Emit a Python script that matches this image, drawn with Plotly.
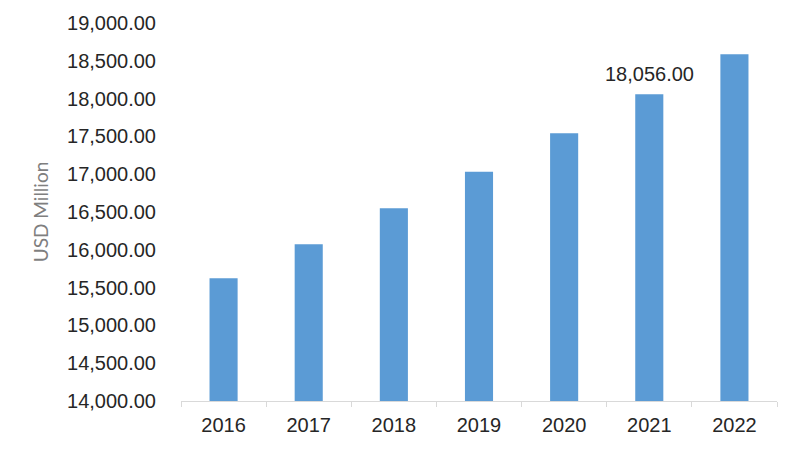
import plotly.graph_objects as go

years = ["2016", "2017", "2018", "2019", "2020", "2021", "2022"]
values = [15623, 16073, 16549, 17033, 17541, 18056, 18586]
labelled_year = "2021"
labelled_text = "18,056.00"
y_ticks = [14000, 14500, 15000, 15500, 16000, 16500, 17000, 17500, 18000, 18500, 19000]
y_tick_text = ["{:,.2f}".format(v) for v in y_ticks]

fig = go.Figure()
fig.add_trace(go.Bar(
    x=years, y=values,
    marker=dict(color="#5b9bd5", line=dict(width=0)),
    width=0.33,
    hoverinfo="x+y",
))

idx = years.index(labelled_year)
fig.add_annotation(
    x=idx, y=values[idx],
    text=labelled_text, showarrow=False, yanchor="bottom", yshift=7,
    font=dict(family="Liberation Sans, Arial", size=20, color="#262626"),
)

fig.update_layout(
    width=800, height=452,
    margin=dict(l=173, r=31, t=15, b=59),
    paper_bgcolor="white", plot_bgcolor="white",
    showlegend=False,
    font=dict(family="Liberation Sans, Arial", size=20, color="#262626"),
)
fig.update_xaxes(
    type="category", range=[-0.5, len(years) - 0.5], automargin=False,
    showline=True, linecolor="#d9d9d9", linewidth=1,
    ticks="outside", ticklen=5, tickcolor="#d9d9d9", tickson="boundaries",
    ticklabelstandoff=6,
    showgrid=False, tickangle=0, tickfont=dict(size=20, color="#262626"),
)
fig.update_yaxes(
    range=[14000, 19000], automargin=False,
    tickvals=y_ticks, ticktext=y_tick_text,
    showgrid=False, showline=False, zeroline=False, ticks="",
    ticklabelstandoff=24,
    tickfont=dict(size=20, color="#262626"),
    title=dict(text="USD Million", standoff=13,
               font=dict(family="Lato, Liberation Sans", size=19, color="#7f7f7f")),
)

fig.write_html("out.html")
